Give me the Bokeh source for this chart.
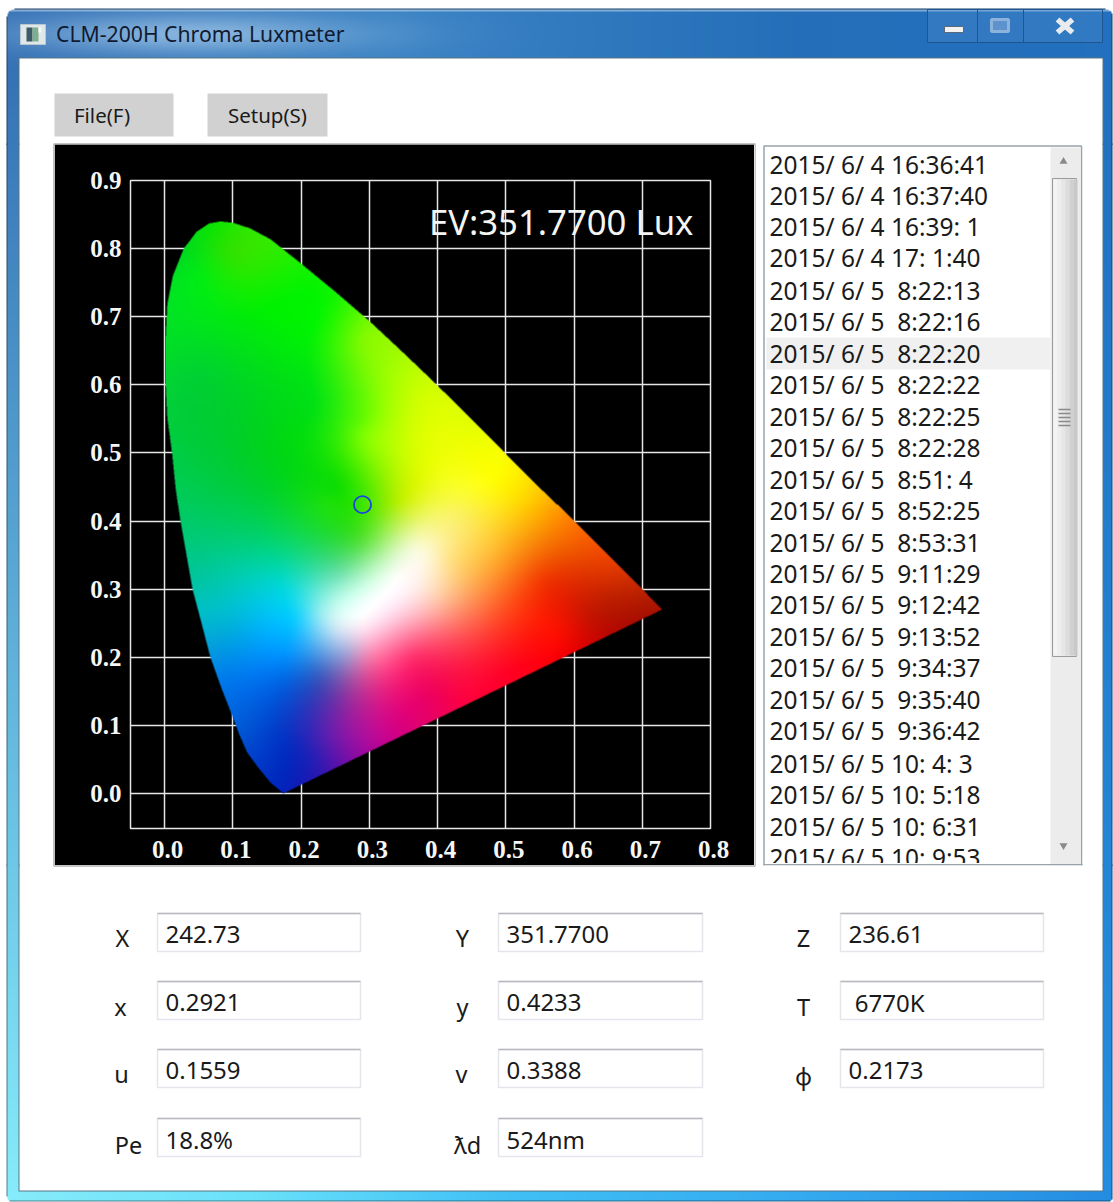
import numpy as np
from bokeh.plotting import figure
from bokeh.layouts import column, row
from bokeh.models import Range1d, FixedTicker, PrintfTickFormatter
from bokeh.core.properties import value
from bokeh.embed import file_html
from bokeh.resources import INLINE

# ---------- data ----------
locus_x = [.174,.155,.137,.121,.110,.0995,.083,.067,.054,.041,.032,.023,.016,.011,.004,.0015,.0015,.004,.012,.028,.047,.065,.082,.100,.125,.155,.199,.25,.30,.345,.389,.445,.5125,.5752,.6270,.6658,.6915,.729]
locus_y = [.000,.016,.038,.060,.085,.113,.155,.200,.250,.299,.350,.401,.450,.500,.552,.600,.669,.719,.760,.800,.825,.837,.840,.838,.830,.814,.779,.737,.694,.652,.610,.555,.4866,.4242,.3725,.3340,.3083,.2695]

anchor_x = [.311,.30,.33,.29,.37,.433,.482,.531,.594,.653,.716,.58,.497,.385,.297,.238,.189,.165,.116,.087,.175,.194,.092,.053,.17,.14,.033,.155,.018,.238,.287,.258,.228,.253,.267,.228,.297,.365,.462,.40,.482,.424,.292,.385,.345,.19,.082,.097,.048,.145,.218,.291,.341,.379,.218,.048,.291,
            .56,.62,.5,.45,.22,.0015,.01,.045,.03,.155,.25,.345,.445,.6,.66,
            .29,.25,.35,.34,.38,.27]
anchor_y = [.284,.27,.30,.26,.362,.406,.465,.425,.357,.284,.270,.235,.172,.138,.088,.084,.065,.016,.103,.172,.206,.255,.235,.265,.304,.367,.357,.455,.528,.43,.372,.323,.264,.245,.206,.172,.191,.201,.264,.284,.342,.342,.528,.528,.43,.528,.83,.80,.767,.72,.694,.669,.62,.581,.572,.62,.547,
            .31,.26,.25,.13,.05,.65,.5,.3,.79,.81,.73,.65,.55,.4,.335,
            .424,.45,.33,.315,.35,.25]
anchor_r = [255,255,255,255,250,250,255,255,240,190,170,250,255,235,180,95,10,0,0,0,0,20,0,0,0,0,0,0,0,30,80,110,150,215,165,60,235,255,255,255,255,255,130,225,190,0,20,50,0,5,0,130,170,210,0,0,100,
            240,200,255,255,40,0,0,0,0,50,20,160,225,255,230,
            60,10,250,255,250,235]
anchor_g = [255,255,255,255,250,240,255,205,90,30,20,15,0,0,15,30,40,40,90,125,150,205,170,190,215,210,200,210,205,225,225,225,235,235,165,90,110,50,110,200,175,220,255,255,240,220,230,225,235,240,245,250,255,255,225,210,250,
            50,20,60,0,30,220,205,195,220,235,245,250,255,120,60,
            230,220,250,255,250,245]
anchor_b = [255,255,255,255,210,100,0,0,0,0,0,0,40,100,155,175,190,190,215,235,255,255,220,200,215,120,130,40,60,10,50,170,240,245,215,190,165,110,70,170,50,120,0,0,0,15,0,0,20,0,0,0,0,0,20,50,0,
            0,0,30,60,180,40,70,170,30,0,0,0,0,0,0,
            0,5,240,250,220,250]

x_ticks = [0.0,0.1,0.2,0.3,0.4,0.5,0.6,0.7,0.8]
y_ticks = [0.0,0.1,0.2,0.3,0.4,0.5,0.6,0.7,0.8,0.9]
point_x = [0.290]
point_y = [0.424]
ev_label = "EV:351.7700 Lux"
title_text = "CLM-200H Chroma Luxmeter"
menu_names = ["File(F)", "Setup(S)"]

list_times = ["2015/ 6/ 4 16:36:41","2015/ 6/ 4 16:37:40","2015/ 6/ 4 16:39: 1","2015/ 6/ 4 17: 1:40",
 "2015/ 6/ 5  8:22:13","2015/ 6/ 5  8:22:16","2015/ 6/ 5  8:22:20","2015/ 6/ 5  8:22:22","2015/ 6/ 5  8:22:25",
 "2015/ 6/ 5  8:22:28","2015/ 6/ 5  8:51: 4","2015/ 6/ 5  8:52:25","2015/ 6/ 5  8:53:31","2015/ 6/ 5  9:11:29",
 "2015/ 6/ 5  9:12:42","2015/ 6/ 5  9:13:52","2015/ 6/ 5  9:34:37","2015/ 6/ 5  9:35:40","2015/ 6/ 5  9:36:42",
 "2015/ 6/ 5 10: 4: 3","2015/ 6/ 5 10: 5:18","2015/ 6/ 5 10: 6:31","2015/ 6/ 5 10: 9:53"]

field_names  = [["X","Y","Z"],["x","y","T"],["u","v","\u03d5"],["Pe","\u019bd",""]]
field_values = [["242.73","351.7700","236.61"],["0.2921","0.4233"," 6770K"],["0.1559","0.3388","0.2173"],["18.8%","524nm",""]]

# ---------- layout constants (window pixels) ----------
W, H = 1113, 1202
CX0, CX1, CY0, CY1 = 54, 754, 144, 865
UI_FONT = "Noto Sans"


def keep_spaces(s):
    return s.replace("  ", " \u00a0").replace(" ", "\u00a0", 1) if s.startswith(" ") else s.replace("  ", " \u00a0")


# ---------- window frame ----------
yy, xx = np.mgrid[0:H, 0:W].astype(float)
top_c = np.stack([np.interp(xx[0], [0,400,800,1113], v) for v in ([52,58,36,34],[112,130,110,112],[180,195,185,190])], 1)
bot_c = np.stack([np.interp(xx[0], [0,250,500,800,1113], v) for v in ([135,105,64,52,36],[235,225,192,170,140],[250,250,245,240,225])], 1)
t = np.clip((yy - 58) / (1190 - 58), 0, 1)[..., None]
frame = top_c[None, :, :] * (1 - t) + bot_c[None, :, :] * t
glow = np.exp(-((xx - 190) / 170) ** 2 - ((yy - 33) / 20) ** 2)[..., None] * 0.7
frame = frame * (1 - glow) + np.array([168, 204, 236]) * glow
band = ((yy >= 9) & (yy < 11))[..., None]
frame = np.where(band, frame * .45 + np.array([200, 220, 240]) * .55, frame)
alpha = np.full((H, W), 255, dtype=float)
alpha[(xx < 6) | (xx >= 1112) | (yy < 8) | (yy >= 1201)] = 0
for cx, cy, r, sx, sy in [(14,16,8,-1,-1),(1104,16,8,1,-1),(12,1195,6,-1,1),(1106,1195,6,1,1)]:
    m = ((xx - cx) * sx > 0) & ((yy - cy) * sy > 0) & (np.hypot(xx - cx, yy - cy) > r)
    alpha[m] = 0
edge = ((yy >= 8) & (yy < 9)) | ((xx >= 6) & (xx < 7)) | ((xx >= 1111) & (xx < 1112)) | ((yy >= 1200) & (yy < 1201))
frame = np.where(edge[..., None], frame * .55, frame)
inner = (xx >= 18) & (xx < 1103) & (yy >= 57) & (yy < 1191)
frame = np.where(inner[..., None], np.array([86, 118, 130.]), frame)
alpha[(xx >= 19) & (xx < 1102) & (yy >= 58) & (yy < 1190)] = 0
rgba = np.dstack([frame, alpha]).round().astype(np.uint8)
frame_img = rgba[..., 0].astype(np.uint32) | rgba[..., 1].astype(np.uint32) << 8 | rgba[..., 2].astype(np.uint32) << 16 | rgba[..., 3].astype(np.uint32) << 24


def chrome(x0, x1, y0, y1):
    p = figure(width=x1 - x0, height=y1 - y0, x_range=Range1d(x0, x1), y_range=Range1d(-y1, -y0),
               x_axis_location=None, y_axis_location=None, toolbar_location=None, output_backend="svg",
               min_border=0, outline_line_color=None, background_fill_alpha=0, border_fill_alpha=0)
    p.grid.visible = False
    py0, py1 = max(y0 - 3, 0), min(y1 + 3, H)
    p.image_rgba(image=[frame_img[py0:py1, x0:x1][::-1]], x=x0, y=-py1, dw=x1 - x0, dh=py1 - py0)
    return p


def box(p, x0, y0, x1, y1, fill="white", line=None, lw=1, alpha=1):
    p.quad(left=[x0], right=[x1], top=[-y0], bottom=[-y1], fill_color=fill, line_color=line, line_width=lw, fill_alpha=alpha)


def seg(p, x0, y0, x1, y1, color, lw=1, cap="butt"):
    p.segment(x0=[x0], y0=[-y0], x1=[x1], y1=[-y1], line_color=color, line_width=lw, line_cap=cap)


def txt(p, x, y, s, size, color="#1a1a1a", align="left", font=UI_FONT):
    p.text(x=[x], y=[-y], text=[s], text_font=value(font), text_font_size=f"{size}px", text_color=color,
           text_align=align, text_baseline="middle")


# ---------- top band (bands overlap by a row, so that no seam shows in the window frame) ----------
top = chrome(0, W, 0, CY0 + 1)
box(top, 20, 24, 45, 44, "#dfe7e8", "#b8c8d0")
box(top, 26, 27, 32, 41, "#3d5b66")
box(top, 32, 27, 38, 41, "#7fae8f")
box(top, 38, 27, 41, 32, "#f6f8f6")
txt(top, 55.5, 33, title_text, 21.2, "#101a30")
box(top, 927, 9, 1102, 42, "#5f98d2", "#1f5690", alpha=.25)
seg(top, 977, 9, 977, 42, "#1f5690")
seg(top, 1023, 9, 1023, 42, "#1f5690")
box(top, 944, 26, 963, 32, "#f2f2f2", "#5a6a7a")
box(top, 991, 19, 1008, 31, "#5e92cc", "#8db3dc", lw=3)
seg(top, 1057, 19, 1072, 32, "#e8ecef", 5.5)
seg(top, 1072, 19, 1057, 32, "#e8ecef", 5.5)
box(top, 54, 93, 173, 136, "#d1d1d1")
box(top, 207, 93, 327, 136, "#d1d1d1")
txt(top, 101.5, 114, menu_names[0], 20.5, align="center")
txt(top, 267, 114, menu_names[1], 20.5, align="center")
box(top, 53, 143, 755, 144, "#8a8a8a")

# ---------- left strip ----------
left = chrome(0, CX0, CY0 - 1, CY1 + 1)
box(left, 53, CY0, 54, CY1, "#8a8a8a")

# ---------- chart ----------
x0, x1, y0, y1 = -0.05, 0.8, -0.0515, 0.9
frame_w, frame_h = 580, 649
chart = figure(width=CX1 - CX0, height=CY1 - CY0, x_range=Range1d(x0, x1), y_range=Range1d(y0, y1),
               toolbar_location=None, output_backend="svg", min_border_left=76, min_border_right=44,
               min_border_top=36, min_border_bottom=36, background_fill_color="black", border_fill_color="black",
               outline_line_color="#e6e6e6", outline_line_width=1.5)
for a, ticks in ((chart.xaxis[0], x_ticks), (chart.yaxis[0], y_ticks)):
    a.ticker = FixedTicker(ticks=ticks)
    a.formatter = PrintfTickFormatter(format="%.1f")
    a.axis_line_color = None
    a.major_tick_line_color = None
    a.minor_tick_line_color = None
    a.major_label_text_color = "#f6f6f6"
    a.major_label_text_font = "Liberation Serif"
    a.major_label_text_font_style = "bold"
    a.major_label_text_font_size = "25px"
chart.xaxis[0].major_label_overrides = {v: f"\u00a0{v:.1f}" for v in x_ticks}
chart.xaxis[0].major_label_standoff = 1
chart.yaxis[0].major_label_standoff = 3
chart.xgrid[0].ticker = FixedTicker(ticks=x_ticks)
chart.ygrid[0].ticker = FixedTicker(ticks=y_ticks)
chart.grid.grid_line_color = "#e6e6e6"
chart.grid.grid_line_width = 1.5

gx = x0 + (np.arange(frame_w) + .5) * (x1 - x0) / frame_w
gy = y0 + (np.arange(frame_h) + .5) * (y1 - y0) / frame_h
GX, GY = np.meshgrid(gx, gy)

# thin-plate interpolation through the colours read at the anchors
ax_, ay_ = np.array(anchor_x), np.array(anchor_y)
rgb_ = np.stack([anchor_r, anchor_g, anchor_b], 1).astype(float)
n = len(ax_)


def phi(r2):
    return np.where(r2 > 0, 0.5 * r2 * np.log(np.maximum(r2, 1e-12)), 0.0)


K = phi((ax_[:, None] - ax_[None, :]) ** 2 + (ay_[:, None] - ay_[None, :]) ** 2) + np.eye(n) * 2e-4
P = np.column_stack([np.ones(n), ax_, ay_])
A = np.block([[K, P], [P.T, np.zeros((3, 3))]])
sol = np.linalg.solve(A, np.vstack([rgb_, np.zeros((3, 3))]))
colr = (sol[n, :] + np.multiply.outer(GX, sol[n + 1, :]) + np.multiply.outer(GY, sol[n + 2, :]))
for i in range(n):
    colr = colr + phi((GX - ax_[i]) ** 2 + (GY - ay_[i]) ** 2)[..., None] * sol[i]
colr = np.clip(colr, 0, 255)

hx = x0 + (np.arange(frame_w * 2) + .5) * (x1 - x0) / (frame_w * 2)
hy = y0 + (np.arange(frame_h * 2) + .5) * (y1 - y0) / (frame_h * 2)
HX, HY = np.meshgrid(hx, hy)
inside = np.zeros(HX.shape, dtype=bool)
lx, ly = np.array(locus_x), np.array(locus_y)
for i in range(len(lx)):
    j = (i + 1) % len(lx)
    if ly[i] == ly[j]:
        continue
    c = (ly[i] > HY) != (ly[j] > HY)
    xc = lx[i] + (HY - ly[i]) * (lx[j] - lx[i]) / (ly[j] - ly[i])
    inside ^= c & (HX < xc)
mask = inside.reshape(frame_h, 2, frame_w, 2).mean(axis=(1, 3))
rgba2 = np.dstack([colr, mask * 255]).round().astype(np.uint8)
img = rgba2[..., 0].astype(np.uint32) | rgba2[..., 1].astype(np.uint32) << 8 | rgba2[..., 2].astype(np.uint32) << 16 | rgba2[..., 3].astype(np.uint32) << 24
chart.image_rgba(image=[img], x=x0, y=y0, dw=x1 - x0, dh=y1 - y0)
chart.scatter(x=point_x, y=point_y, marker="circle", size=17, fill_color=None, line_color="#1a46dc", line_width=1.8)
chart.text(x=[0.775], y=[0.84], text=[ev_label], text_font=value(UI_FONT), text_font_size="34.7px",
           text_color="#f4f4f4", text_align="right", text_baseline="middle")

# ---------- right strip with list ----------
right = chrome(CX1, W, CY0 - 1, CY1 + 1)
box(right, 754, CY0, 755, CY1, "#8a8a8a")
box(right, 763.5, 145.5, 1081, 870, "white", "#9aa2ac", lw=1.5)
box(right, 1050, 147, 1080, 870, "#ececec")
box(right, 766, 337, 1050, 369, "#f0f0f0")
row_y = [164, 195, 226, 257, 290, 321, 353, 384, 416, 447, 479, 510, 542, 573, 604, 636, 667, 699, 730, 763, 794, 826, 857]
right.text(x=[769] * len(list_times), y=[-v for v in row_y], text=[keep_spaces(s) for s in list_times], text_font=value(UI_FONT),
           text_font_size="24.5px", text_color="#1a1a1a", text_align="left", text_baseline="middle")
box(right, 764.5, 862.5, 1080, 870, "white")
box(right, 1050, 862.5, 1080, 870, "#ececec")
box(right, 763, 863.5, 1082, 865, "#9aa2ac")
box(right, 755, 865, 1102, 870, "white")
box(right, 1052, 178, 1076, 656, "#e8e8e8", "#9b9b9b")
for k, c in enumerate(["#f4f4f4", "#eeeeee", "#e6e6e6", "#dcdcdc", "#d0d0d0", "#c8c8c8"]):
    box(right, 1053 + 4 * k, 179, 1057 + 4 * k, 655, c)
for yk in (409, 413, 417, 421, 425):
    seg(right, 1058, yk, 1070, yk, "#8a8a8a", 1.5)
right.scatter(x=[1063], y=[-161], marker="triangle", size=8, fill_color="#8a8a8a", line_color=None)
right.scatter(x=[1063], y=[-845], marker="inverted_triangle", size=8, fill_color="#8a8a8a", line_color=None)

# ---------- bottom band ----------
bot = chrome(0, W, CY1 - 1, H)
box(bot, 53, 865, 755, 866, "#8a8a8a")
col_x = [157, 498, 840]
col_w = [203, 204, 203]
row_top = [913, 981, 1049, 1118]
label_x = [[122, 462, 803], [120, 462, 803], [121, 461, 803], [128, 467, 803]]
label_y = [937, 1006, 1073, 1144]
for r_i, (names, vals) in enumerate(zip(field_names, field_values)):
    for c_i, (nm, v) in enumerate(zip(names, vals)):
        if not nm:
            continue
        xa, ya = col_x[c_i], row_top[r_i]
        box(bot, xa, ya, xa + col_w[c_i], ya + 38, "white", "#e4e6ec", lw=1.5)
        seg(bot, xa, ya, xa + col_w[c_i], ya, "#b9b9c0", 1.5)
        txt(bot, xa + 8, ya + 21, keep_spaces(v), 24)
        txt(bot, label_x[r_i][c_i], label_y[r_i] + (2 if nm == "\u03d5" else 0), nm, 23.5, align="center")

page = column(column(top, margin=(0, 0, -1, 0)),
              row(column(left, margin=(-1, 0, -1, 0)), chart, column(right, margin=(-1, 0, -1, 0)), spacing=0),
              column(bot, margin=(-1, 0, 0, 0)), spacing=0)
open("out.html", "w").write(file_html(page, INLINE))
